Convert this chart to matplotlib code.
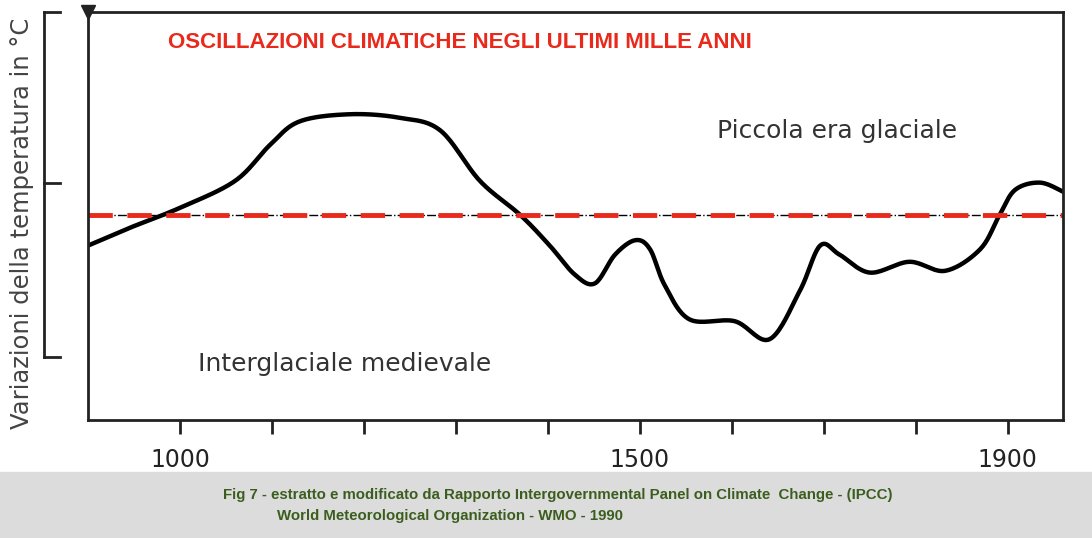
import numpy as np
import matplotlib.pyplot as plt
import matplotlib.transforms as mtransforms

years = [900, 946, 1000, 1060, 1098, 1130, 1185, 1239, 1283, 1326, 1370, 1402,
         1429, 1451, 1473, 1495, 1511, 1527, 1554, 1603, 1641, 1674, 1696, 1717,
         1750, 1793, 1832, 1870, 1891, 1908, 1935, 1960]
temps = [-0.32, -0.22, -0.11, 0.04, 0.24, 0.37, 0.41, 0.39, 0.32, 0.04, -0.15, -0.32,
         -0.48, -0.53, -0.37, -0.29, -0.34, -0.54, -0.73, -0.74, -0.84, -0.57, -0.32, -0.37,
         -0.47, -0.41, -0.46, -0.34, -0.15, -0.01, 0.03, -0.02]
mean_level = -0.15
tick_years = [1000, 1100, 1200, 1300, 1400, 1500, 1600, 1700, 1800, 1900]
tick_labels = ['1000', '', '', '', '', '1500', '', '', '', '1900']


def catmull(x, y, n=20):
    x = np.asarray(x, float); y = np.asarray(y, float)
    px = np.r_[x[0], x, x[-1]]; py = np.r_[y[0], y, y[-1]]
    ox, oy = [], []
    t = np.linspace(0, 1, n, endpoint=False)
    for i in range(1, len(px) - 2):
        for p, o in ((px, ox), (py, oy)):
            p0, p1, p2, p3 = p[i - 1], p[i], p[i + 1], p[i + 2]
            o.extend(0.5 * (2 * p1 + (-p0 + p2) * t + (2 * p0 - 5 * p1 + 4 * p2 - p3) * t ** 2
                            + (-p0 + 3 * p1 - 3 * p2 + p3) * t ** 3))
    ox.append(x[-1]); oy.append(y[-1])
    return np.array(ox), np.array(oy)


fig = plt.figure(figsize=(10.92, 5.38), dpi=100)
fig.patch.set_facecolor('white')
fig.patches.append(plt.Rectangle((0, 0), 1, 66 / 538, transform=fig.transFigure,
                                 color='#dcdcdc', zorder=0))
ax = fig.add_axes([88 / 1092, 118 / 538, 975 / 1092, 408 / 538])
ax.set_xlim(900, 1960)
ax.set_ylim(-1.289, 0.978)

sx, sy = catmull(years, temps)
ax.plot(sx, sy, color='black', lw=3.2, solid_capstyle='round')
ax.axhline(mean_level, color='black', lw=1, ls='-.')
ax.axhline(mean_level, color='#e8291c', lw=3.5, ls=(0, (5, 3)))

for s in ['top', 'left', 'bottom', 'right']:
    ax.spines[s].set_linewidth(2)
    ax.spines[s].set_color('#222222')
ax.set_yticks([])
ax.set_xticks(tick_years)
ax.set_xticklabels(tick_labels, fontsize=17, color='#222222')
ax.tick_params(axis='x', length=10, width=2, pad=10, color='#222222')

# bracket-style temperature scale at left
tr = mtransforms.blended_transform_factory(fig.transFigure, ax.transData)
bx0, bx1 = 44 / 1092, 60 / 1092
ax.plot([bx0, bx0], [0.978, -0.94], transform=tr, color='#222222', lw=2, clip_on=False)
for yy in [0.978, 0.03, -0.94]:
    ax.plot([bx0, bx1], [yy, yy], transform=tr, color='#222222', lw=2, clip_on=False)
ax.plot([88 / 1092], [0.978], transform=tr, marker='v', color='#222222', ms=10, clip_on=False)

fig.text(22 / 1092, 0.585, 'Variazioni della temperatura in °C', rotation=90,
         ha='center', va='center', fontsize=17.5, color='#444444')
ax.text(0.082, 0.95, 'OSCILLAZIONI CLIMATICHE NEGLI ULTIMI MILLE ANNI',
        transform=ax.transAxes, fontsize=16, fontweight='bold', color='#e8291c', va='top',
        family='Liberation Sans')
ax.text(0.645, 0.69, 'Piccola era glaciale', transform=ax.transAxes, fontsize=18, color='#333333')
ax.text(0.113, 0.12, 'Interglaciale medievale', transform=ax.transAxes, fontsize=18, color='#333333')
fig.text(223 / 1092, 43 / 538, 'Fig 7 - estratto e modificato da Rapporto Intergovernmental Panel on Climate  Change - (IPCC)',
         fontsize=10.8, fontweight='bold', color='#3b5e1e', va='center', family='Liberation Sans')
fig.text(277 / 1092, 22 / 538, 'World Meteorological Organization - WMO - 1990',
         fontsize=10.8, fontweight='bold', color='#3b5e1e', va='center', family='Liberation Sans')

fig.savefig('out.png', dpi=100)
